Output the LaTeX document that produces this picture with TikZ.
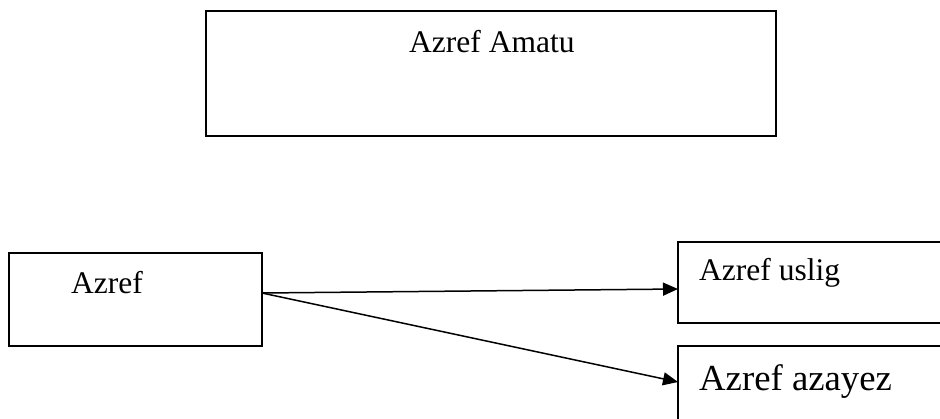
\documentclass[tikz,border=0pt]{standalone}
\usepackage{fontspec}
\setmainfont{Liberation Serif}
\usetikzlibrary{arrows.meta}
\tikzset{
  boxnode/.style={draw=black, line width=1.8pt, inner sep=0pt, outer sep=0pt, anchor=north west},
  lbl/.style={anchor=base west, inner sep=0pt, font=\fontsize{31.5}{38}\selectfont},
  lblbig/.style={anchor=base west, inner sep=0pt, font=\fontsize{36.75}{44}\selectfont},
  conn/.style={line width=1.5pt, -{Triangle[length=15pt,width=13pt]}}
}
\begin{document}
\begin{tikzpicture}[x=1pt,y=-1pt]
\clip (0,0) rectangle (940,418);
\fill[white] (0,0) rectangle (940,418);
% boxes
\node[boxnode, minimum width=570pt, minimum height=125pt] (amatu) at (206,11) {};
\node[boxnode, minimum width=253pt, minimum height=93pt] (azref) at (9,253) {};
\node[boxnode, minimum width=300pt, minimum height=81pt] (uslig) at (678,242) {};
\node[boxnode, minimum width=300pt, minimum height=100pt] (azayez) at (678,346) {};
% texts
\node[lbl] (tamatu) at (409,52) {Azref Amatu};
\node[lbl] (tazref) at (71,293) {Azref};
\node[lbl] (tuslig) at (699,280) {Azref uslig};
\node[lblbig] (tazayez) at (699,390) {Azref azayez};
% connectors
\draw[conn] ([yshift=6.5pt]azref.east) -- ([yshift=-6.5pt]uslig.west);
\draw[conn] ([yshift=6.5pt]azref.east) -- ([yshift=14pt]azayez.west);
\end{tikzpicture}
\end{document}
